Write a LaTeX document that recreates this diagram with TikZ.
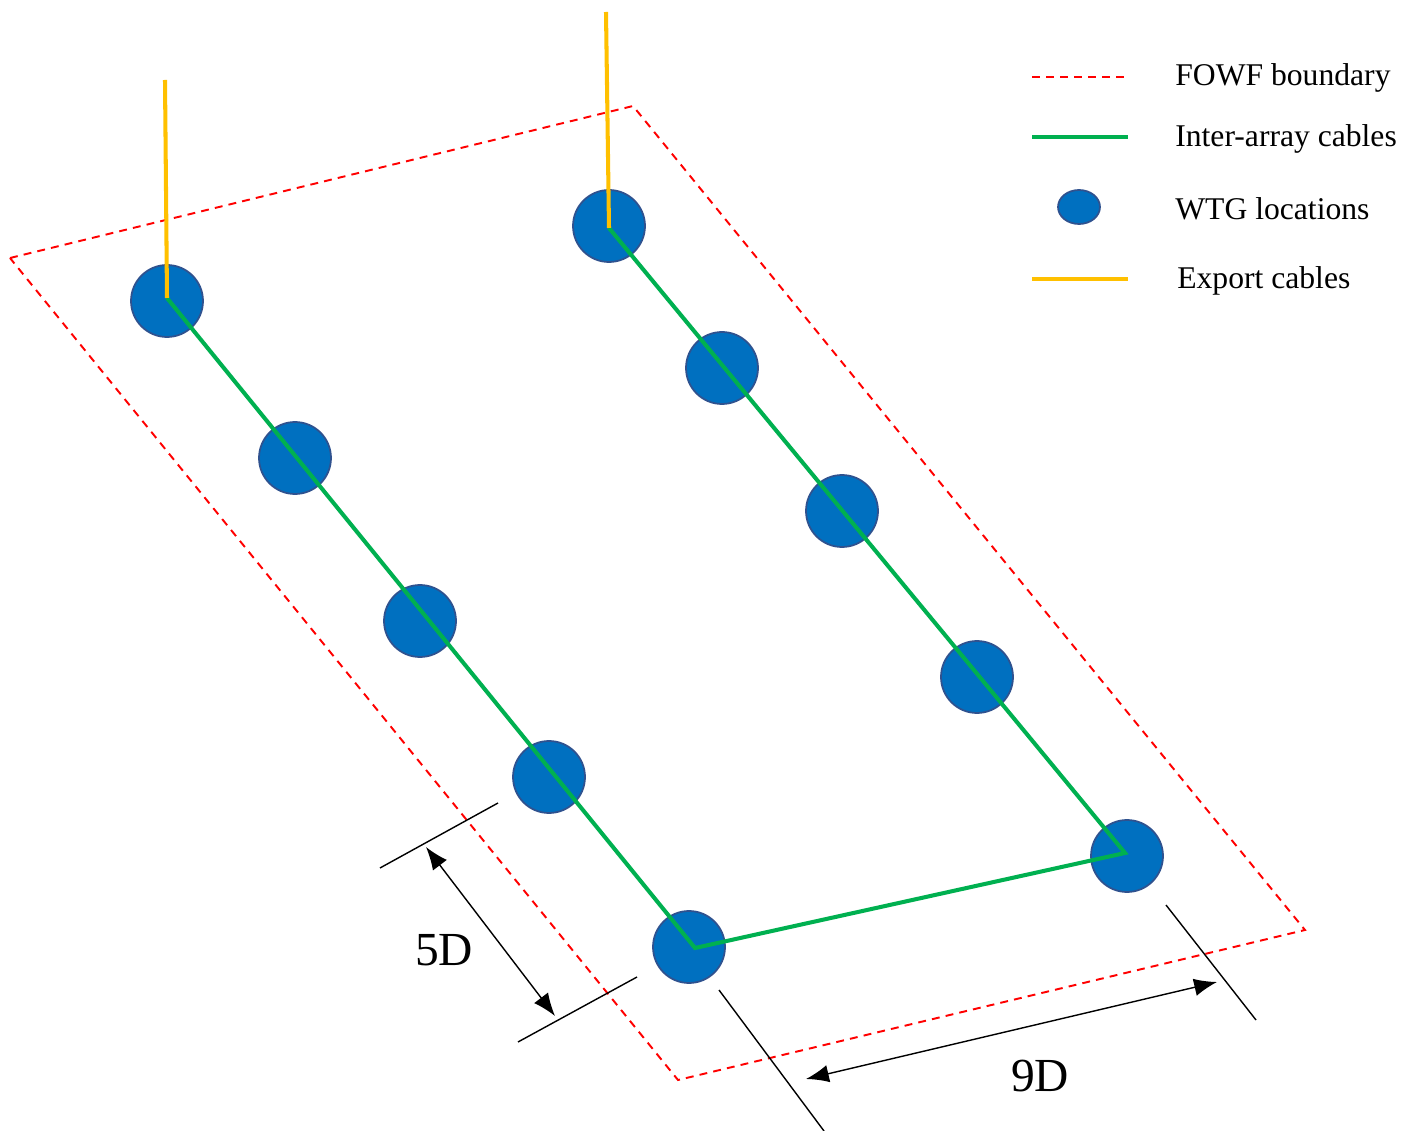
\documentclass[tikz,border=0pt]{standalone}
\usepackage{fontspec}
\setmainfont{Liberation Serif}
\usetikzlibrary{arrows.meta,shapes.geometric}
\definecolor{wtgblue}{HTML}{0070C0}
\definecolor{wtgedge}{HTML}{2F528F}
\definecolor{cablegreen}{HTML}{00B050}
\definecolor{exportorange}{HTML}{FFC000}
\tikzset{
  wtg/.style={circle, fill=wtgblue, draw=wtgedge, line width=1pt, minimum size=1.44cm, inner sep=0pt},
  boundary/.style={red, line width=1.1pt, dash pattern=on 4.5pt off 3.5pt},
  inter/.style={cablegreen, line width=2.3pt},
  export/.style={exportorange, line width=2.3pt},
  extline/.style={black, line width=0.8pt},
  dimarrow/.style={black, line width=0.8pt, {Latex[length=13pt,width=10pt]}-{Latex[length=13pt,width=10pt]}},
  legtext/.style={anchor=west, font=\fontsize{18}{20}\selectfont, inner sep=0pt},
  dimtext/.style={font=\fontsize{27}{30}\selectfont, inner sep=0pt}
}
\begin{document}
\begin{tikzpicture}[x=0.02cm,y=-0.02cm]
\useasboundingbox (0,0) rectangle (1414,1131);
% boundary
\coordinate (b1) at (10,258);
\coordinate (b2) at (633,106);
\coordinate (b3) at (1305,930);
\coordinate (b4) at (678,1080);
\draw[boundary] (b1) -- (b2) -- (b3) -- (b4) -- cycle;
% turbines
\node[wtg] (t1) at (167,301) {};
\node[wtg] (t2) at (295,458) {};
\node[wtg] (t3) at (420,621) {};
\node[wtg] (t4) at (549,777) {};
\node[wtg] (t5) at (689,947) {};
\node[wtg] (r1) at (609,226) {};
\node[wtg] (r2) at (722,368) {};
\node[wtg] (r3) at (842,511) {};
\node[wtg] (r4) at (977,677) {};
\node[wtg] (r5) at (1127,856) {};
% inter-array cables
\coordinate (c1) at (167,298);
\coordinate (c5) at (695,948);
\coordinate (d1) at (609,228);
\coordinate (d5) at (1125,853);
\draw[inter] (c1) -- (c5) -- (d5) -- (d1);
% export cables
\coordinate (e1) at (165,80);
\coordinate (e2) at (606,12);
\draw[export] (e1) -- (c1);
\draw[export] (e2) -- (d1);
% 5D dimension
\coordinate (x1a) at (380,868); \coordinate (x1b) at (498,803);
\coordinate (x2a) at (518,1042); \coordinate (x2b) at (637,977);
\draw[extline] (x1a) -- (x1b);
\draw[extline] (x2a) -- (x2b);
\coordinate (a5s) at (426,847); \coordinate (a5e) at (555,1016);
\draw[dimarrow] (a5s) -- (a5e);
\node[dimtext] (l5) at (444,950) {5D};
% 9D dimension
\coordinate (y1a) at (719,990); \coordinate (y1b) at (824,1131);
\coordinate (y2a) at (1166,905); \coordinate (y2b) at (1256,1020);
\draw[extline] (y1a) -- (y1b);
\draw[extline] (y2a) -- (y2b);
\coordinate (a9s) at (806,1079); \coordinate (a9e) at (1217,982);
\draw[dimarrow] (a9s) -- (a9e);
\node[dimtext] (l9) at (1040,1076) {9D};
% legend
\coordinate (lg1a) at (1032,77); \coordinate (lg1b) at (1125,77);
\draw[boundary] (lg1a) -- (lg1b);
\node[legtext] (lt1) at (1175,78) {FOWF boundary};
\coordinate (lg2a) at (1032,137); \coordinate (lg2b) at (1128,137);
\draw[inter] (lg2a) -- (lg2b);
\node[legtext] (lt2) at (1175,139) {Inter-array cables};
\node[ellipse, fill=wtgblue, draw=wtgedge, line width=1pt, minimum width=0.84cm, minimum height=0.68cm, inner sep=0pt] (lg3) at (1079,207) {};
\node[legtext] (lt3) at (1175,209) {WTG locations};
\coordinate (lg4a) at (1032,279); \coordinate (lg4b) at (1128,279);
\draw[export] (lg4a) -- (lg4b);
\node[legtext] (lt4) at (1177,281) {Export cables};
\end{tikzpicture}
\end{document}
